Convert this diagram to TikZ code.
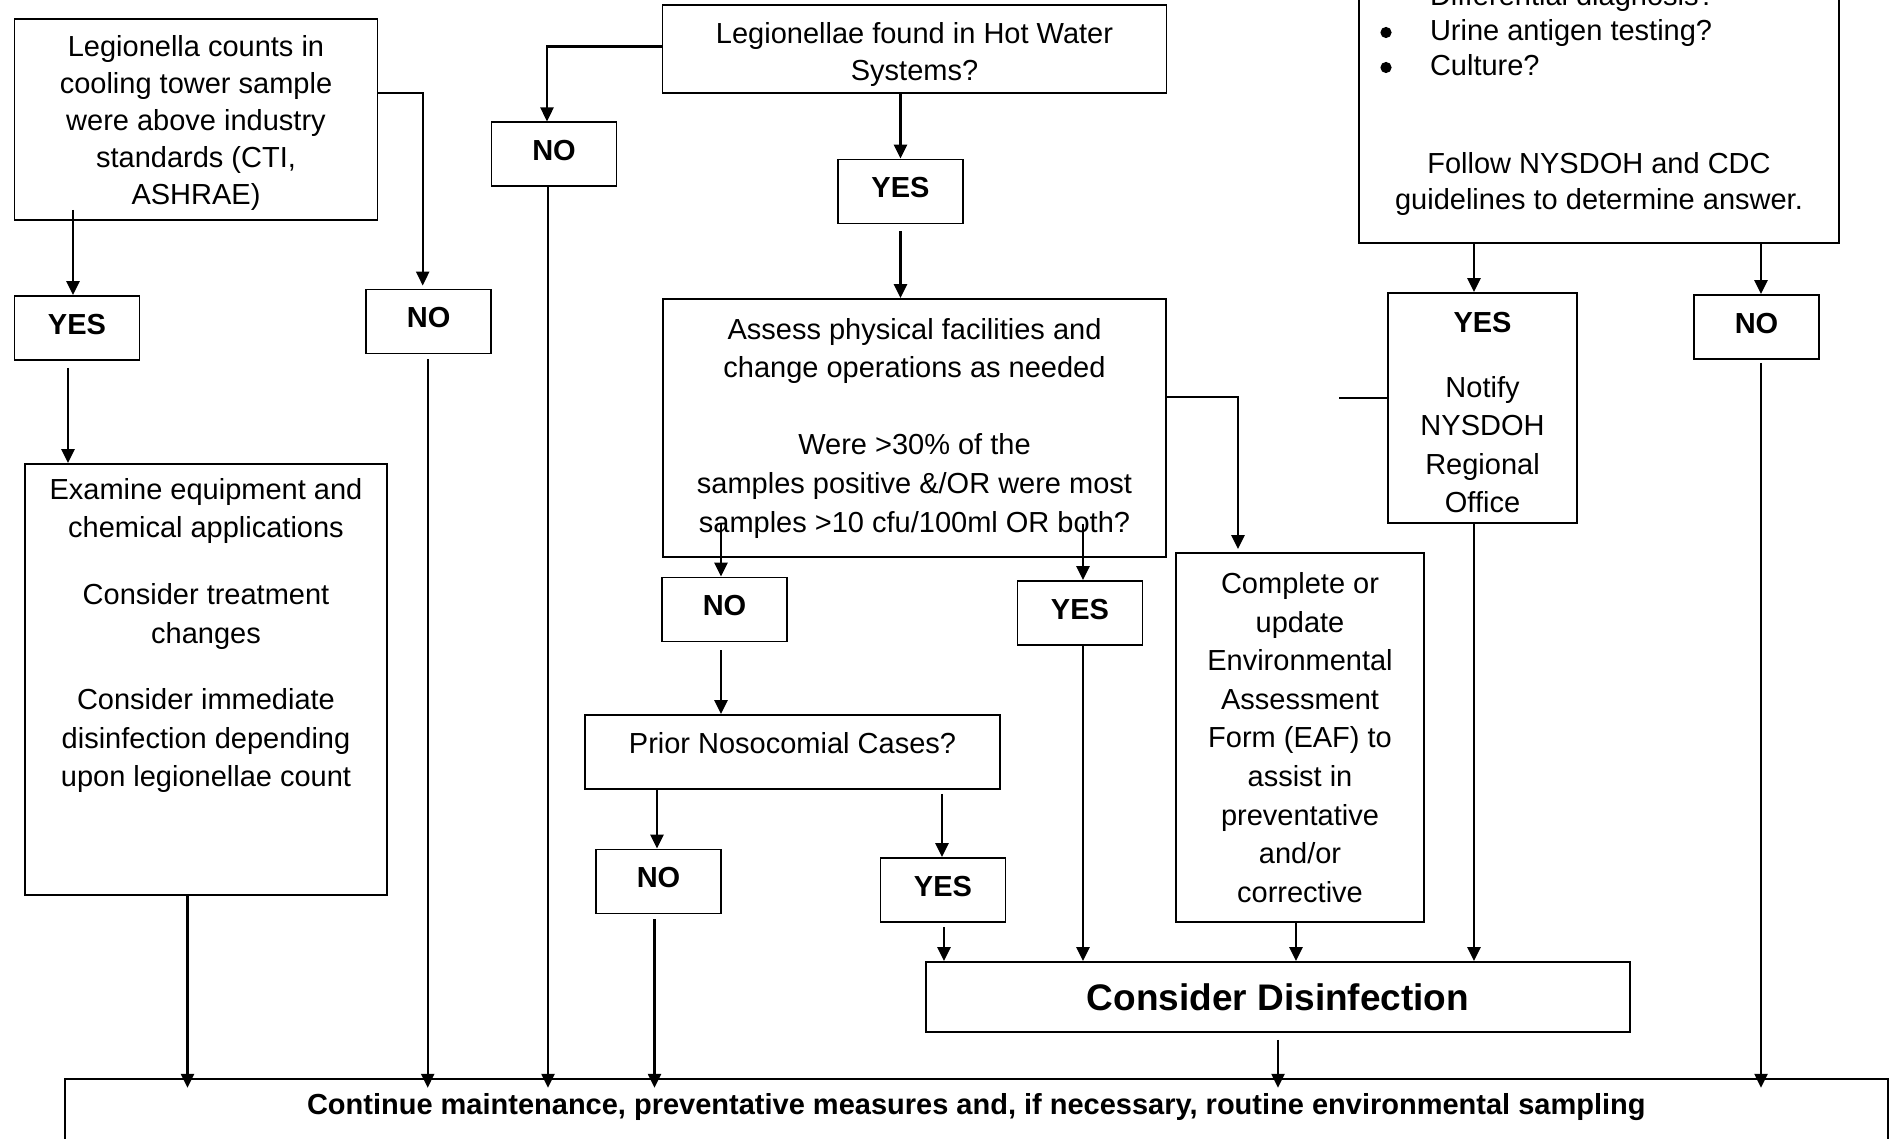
\documentclass[tikz,border=0pt]{standalone}
\usepackage{fontspec}
\setmainfont{Liberation Sans}
\usetikzlibrary{calc,arrows.meta}
\newcommand\myfs{\fontsize{14.5}{19.3}\selectfont}
\newcommand\myfsA{\fontsize{14.5}{18.5}\selectfont}
\newcommand\mybf{\fontsize{14.5}{19.3}\selectfont\bfseries}
\tikzset{
  box/.style={draw, line width=0.9pt, inner sep=0pt, align=center, font=\myfs},
  yn/.style={box, font=\mybf, text depth=4pt, minimum width=62.5pt, minimum height=32pt},
  arr/.style={line width=1.2pt, -{Triangle[length=7pt,width=6.5pt]}},
  ln/.style={line width=1.2pt},
  bul/.style={anchor=base west, inner sep=0pt, font=\myfs},
}
\begin{document}
\begin{tikzpicture}[x=0.5pt,y=-0.5pt]
\useasboundingbox (0,0) rectangle (1891,1139);
\clip (0,0) rectangle (1891,1139);

% main boxes
\node[box, minimum width=181.5pt, minimum height=100.5pt,
  label={[name=Atext, align=center, font=\myfsA, yshift=-1.8pt]center:{Legionella counts in\\cooling tower sample\\were above industry\\standards (CTI,\\ASHRAE)}}] (A) at (196,119.5) {};
\node[box, minimum width=252pt, minimum height=44pt,
  label={[name=Btext, align=center, font=\myfsA, yshift=-3pt]center:{Legionellae found in Hot Water\\Systems?}}] (B) at (914.5,48.7) {};
\node[box, minimum width=251.5pt, minimum height=129pt] (C) at (914.5,428)
  {Assess physical facilities and\\change operations as needed\\[19.3pt]Were >30\% of the\\samples positive \&/OR were most\\samples >10 cfu/100ml OR both?};
\node[box, minimum width=207.5pt, minimum height=37pt,
  label={[name=Dtext, font=\myfs, yshift=4.5pt]center:{Prior Nosocomial Cases?}}] (D) at (792.5,752) {};
\node[box, minimum width=181pt, minimum height=215.5pt,
  label={[name=Itext, align=center, font=\myfs, yshift=22pt]center:{Examine equipment and\\chemical applications\\[14pt]Consider treatment\\changes\\[14pt]Consider immediate\\disinfection depending\\upon legionellae count}}] (I) at (206,679.5) {};
\node[box, minimum width=124pt, minimum height=184.5pt] (H) at (1300,737.5)
  {Complete or\\update\\Environmental\\Assessment\\Form (EAF) to\\assist in\\preventative\\and/or\\corrective};
\node[box, minimum width=94.5pt, minimum height=115pt,
  label={[name=YES5text, align=center, font=\myfs, yshift=-2.25pt]center:{{\bfseries YES}\\[13.2pt]Notify\\NYSDOH\\Regional\\Office}}] (YES5) at (1482.5,408) {};
\node[box, minimum width=240pt, minimum height=171.5pt] (G) at (1599,71.5) {};
\node[bul] (G1) at (1429.6,5.5) {Differential diagnosis?};
\node[bul] (G2) at (1429.6,40.5) {Urine antigen testing?};
\node[bul] (G3) at (1429.6,75.5) {Culture?};
\fill (1386,-7) circle (2.8pt);
\fill (1386,32.5) circle (2.8pt);
\fill (1386,67.5) circle (2.8pt);
\node[align=center, font=\fontsize{14.5}{18}\selectfont, inner sep=0pt] (Gfollow) at (1599,184)
  {Follow NYSDOH and CDC\\guidelines to determine answer.};
\node[box, font=\fontsize{18.5}{22}\selectfont\bfseries, minimum width=352pt, minimum height=35pt] (E) at (1278,997)
  {Consider Disinfection};
\node[box, minimum width=911.65pt, minimum height=60.65pt,
  label={[name=Ftext, font=\mybf, yshift=16.2pt]center:{Continue maintenance, preventative measures and, if necessary, routine environmental sampling}}] (F) at (976.35,1139.35) {};

% yes / no boxes
\node[yn] (YES1) at (77,328) {YES};
\node[yn] (NO1) at (428.7,321.5) {NO};
\node[yn] (NO2) at (554,154.4) {NO};
\node[yn] (YES2) at (900.5,191.5) {YES};
\node[yn] (NO3) at (724.5,609.5) {NO};
\node[yn] (YES3) at (1080,613) {YES};
\node[yn] (NO4) at (658.5,881.5) {NO};
\node[yn] (YES4) at (943,890) {YES};
\node[yn] (NO5) at (1756.5,327) {NO};

% connectors
\draw[arr] ($(A.south -| YES1.north)+(-4,-11)$) -- ($(YES1.north)+(-4,0)$);
\draw[arr] ($(A.north east)+(0,75)$) -| ($(NO1.north)+(-6,-3)$);
\draw[arr] ($(YES1.south)+(-9,7)$) -- ($(YES1.south |- I.north)+(-9,0)$);
\draw[arr] ($(NO1.south)+(-1,5)$) -- ($(NO1.south |- F.north)+(-1,10)$);
\draw[arr] ($(I.south)+(-18.5,0)$) -- ($(I.south |- F.north)+(-18.5,10)$);
\draw[arr] ($(B.west)+(0,-2)$) -| ($(NO2.north)+(-7,0)$);
\draw[arr] ($(NO2.south)+(-6,0)$) -- ($(NO2.south |- F.north)+(-6,10)$);
\draw[arr] (B.south -| YES2.north) -- (YES2.north);
\draw[arr] ($(YES2.south)+(0,7)$) -- (YES2.south |- C.north);
\draw[arr] ($(C.east)+(0,-31)$) -| ($(H.north)+(-62,-3)$);
\draw[arr] ($(NO3.north |- C.south)+(-3.5,-34)$) -- ($(NO3.north)+(-3.5,0)$);
\draw[arr] ($(YES3.north |- C.south)+(3,-34)$) -- ($(YES3.north)+(3,0)$);
\draw[arr] ($(NO3.south)+(-3.5,8)$) -- ($(NO3.south |- D.north)+(-3.5,0)$);
\draw[arr] ($(YES3.south)+(3,0)$) -- ($(YES3.south |- E.north)+(3,0)$);
\draw[arr] ($(NO4.north |- D.south)+(-1.5,0)$) -- ($(NO4.north)+(-1.5,0)$);
\draw[arr] ($(YES4.north |- D.south)+(-1,4)$) -- ($(YES4.north)+(-1,0)$);
\draw[arr] ($(NO4.south)+(-4,5)$) -- ($(NO4.south |- F.north)+(-4,10)$);
\draw[arr] ($(YES4.south)+(1,4)$) -- ($(YES4.south |- E.north)+(1,0)$);
\draw[arr] ($(H.south)+(-4,0)$) -- ($(H.south |- E.north)+(-4,0)$);
\draw[arr] ($(YES5.north |- G.south)+(-8.5,0)$) -- ($(YES5.north)+(-8.5,0)$);
\draw[arr] ($(NO5.north |- G.south)+(4.5,0)$) -- ($(NO5.north)+(4.5,0)$);
\draw[arr] ($(YES5.south)+(-8.5,0)$) -- ($(YES5.south |- E.north)+(-8.5,0)$);
\draw[arr] ($(NO5.south)+(4.5,3)$) -- ($(NO5.south |- F.north)+(4.5,10)$);
\draw[arr] ($(E.south)+(0,7)$) -- ($(E.south |- F.north)+(0,10)$);
\coordinate (stub) at (1339,398);
\draw[ln] ($(YES5.west)+(0,-10)$) -- (stub);
\end{tikzpicture}
\end{document}
